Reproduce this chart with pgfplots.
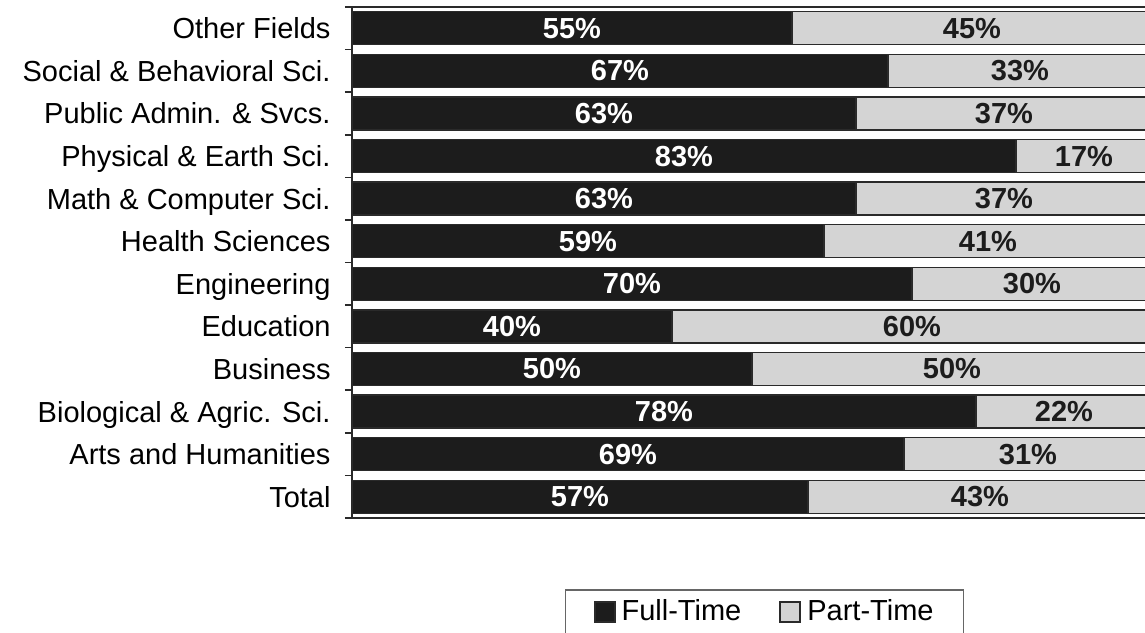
\documentclass[border=0pt]{standalone}
\usepackage{fontspec}
\setmainfont{Liberation Sans}
\usepackage{pgfplots}
\usepackage{pgfplotstable}
\pgfplotsset{compat=1.18}
\definecolor{barblack}{HTML}{1C1C1C}
\definecolor{bargray}{HTML}{D4D4D4}
\definecolor{edge}{HTML}{2A2A2A}

\pgfplotstableread{
pos full part
0 57 43
1 69 31
2 78 22
3 50 50
4 40 60
5 70 30
6 59 41
7 63 37
8 83 17
9 63 37
10 67 33
11 55 45
}\datatable

\begin{document}
\begin{tikzpicture}
\pgfplotsset{common/.style={scale only axis, width=400pt, height=255.5pt,
  xmin=0, xmax=100, ymin=-0.5, ymax=11.5}}
\begin{axis}[common, xbar stacked, bar width=16.5pt,
  axis line style={edge, line width=0.8pt},
  xtick=\empty,
  ytick={0,...,11},
  yticklabels={Total, Arts and Humanities, Biological \& Agric. Sci., Business, Education, Engineering, Health Sciences, Math \& Computer Sci., Physical \& Earth Sci., Public Admin. \& Svcs., Social \& Behavioral Sci., Other Fields},
  minor ytick={-0.5,0.5,...,11.5},
  major tick length=0pt, minor tick length=3.5pt, tick align=outside,
  ytick pos=left,
  tick style={edge, line width=0.8pt},
  yticklabel style={font=\fontsize{14.5}{17}\selectfont, xshift=-7.2pt,
    text height=10.5pt, text depth=0pt},
  legend columns=2,
  legend cell align=left,
  legend image code/.code={\draw[#1, line width=1pt] (0pt,-5pt) rectangle (10pt,5pt);},
  legend style={at={(rel axis cs:0.266,-0.139)}, anchor=north west,
    draw=black!60, line width=0.8pt, inner xsep=14pt, inner ysep=4pt,
    font=\fontsize{14.5}{17}\selectfont,
    nodes={inner sep=1pt},
    /tikz/every odd column/.append style={column sep=2pt},
    /tikz/every even column/.append style={column sep=18pt}},
  ]
\addplot[fill=barblack, draw=edge, line width=0.7pt] table[x=full, y=pos] {\datatable};
\addplot[fill=bargray, draw=edge, line width=0.7pt] table[x=part, y=pos] {\datatable};
\legend{Full-Time, Part-Time}
\end{axis}
\begin{axis}[common, hide axis,
  /pgf/number format/assume math mode=true]
\addplot[draw=none, mark=none, point meta=explicit,
  nodes near coords={\pgfmathprintnumber{\pgfplotspointmeta}\%},
  every node near coord/.append style={anchor=center, text=white,
    font=\fontsize{14.5}{17}\selectfont\bfseries}]
  table[x expr=\thisrow{full}/2, y=pos, meta=full] {\datatable};
\addplot[draw=none, mark=none, point meta=explicit,
  nodes near coords={\pgfmathprintnumber{\pgfplotspointmeta}\%},
  every node near coord/.append style={anchor=center, text=barblack,
    font=\fontsize{14.5}{17}\selectfont\bfseries}]
  table[x expr=\thisrow{full}+\thisrow{part}/2, y=pos, meta=part] {\datatable};
\end{axis}
\pgfresetboundingbox
\path[use as bounding box] (-176pt,-57pt) rectangle (396.5pt,259pt);
\end{tikzpicture}
\end{document}
